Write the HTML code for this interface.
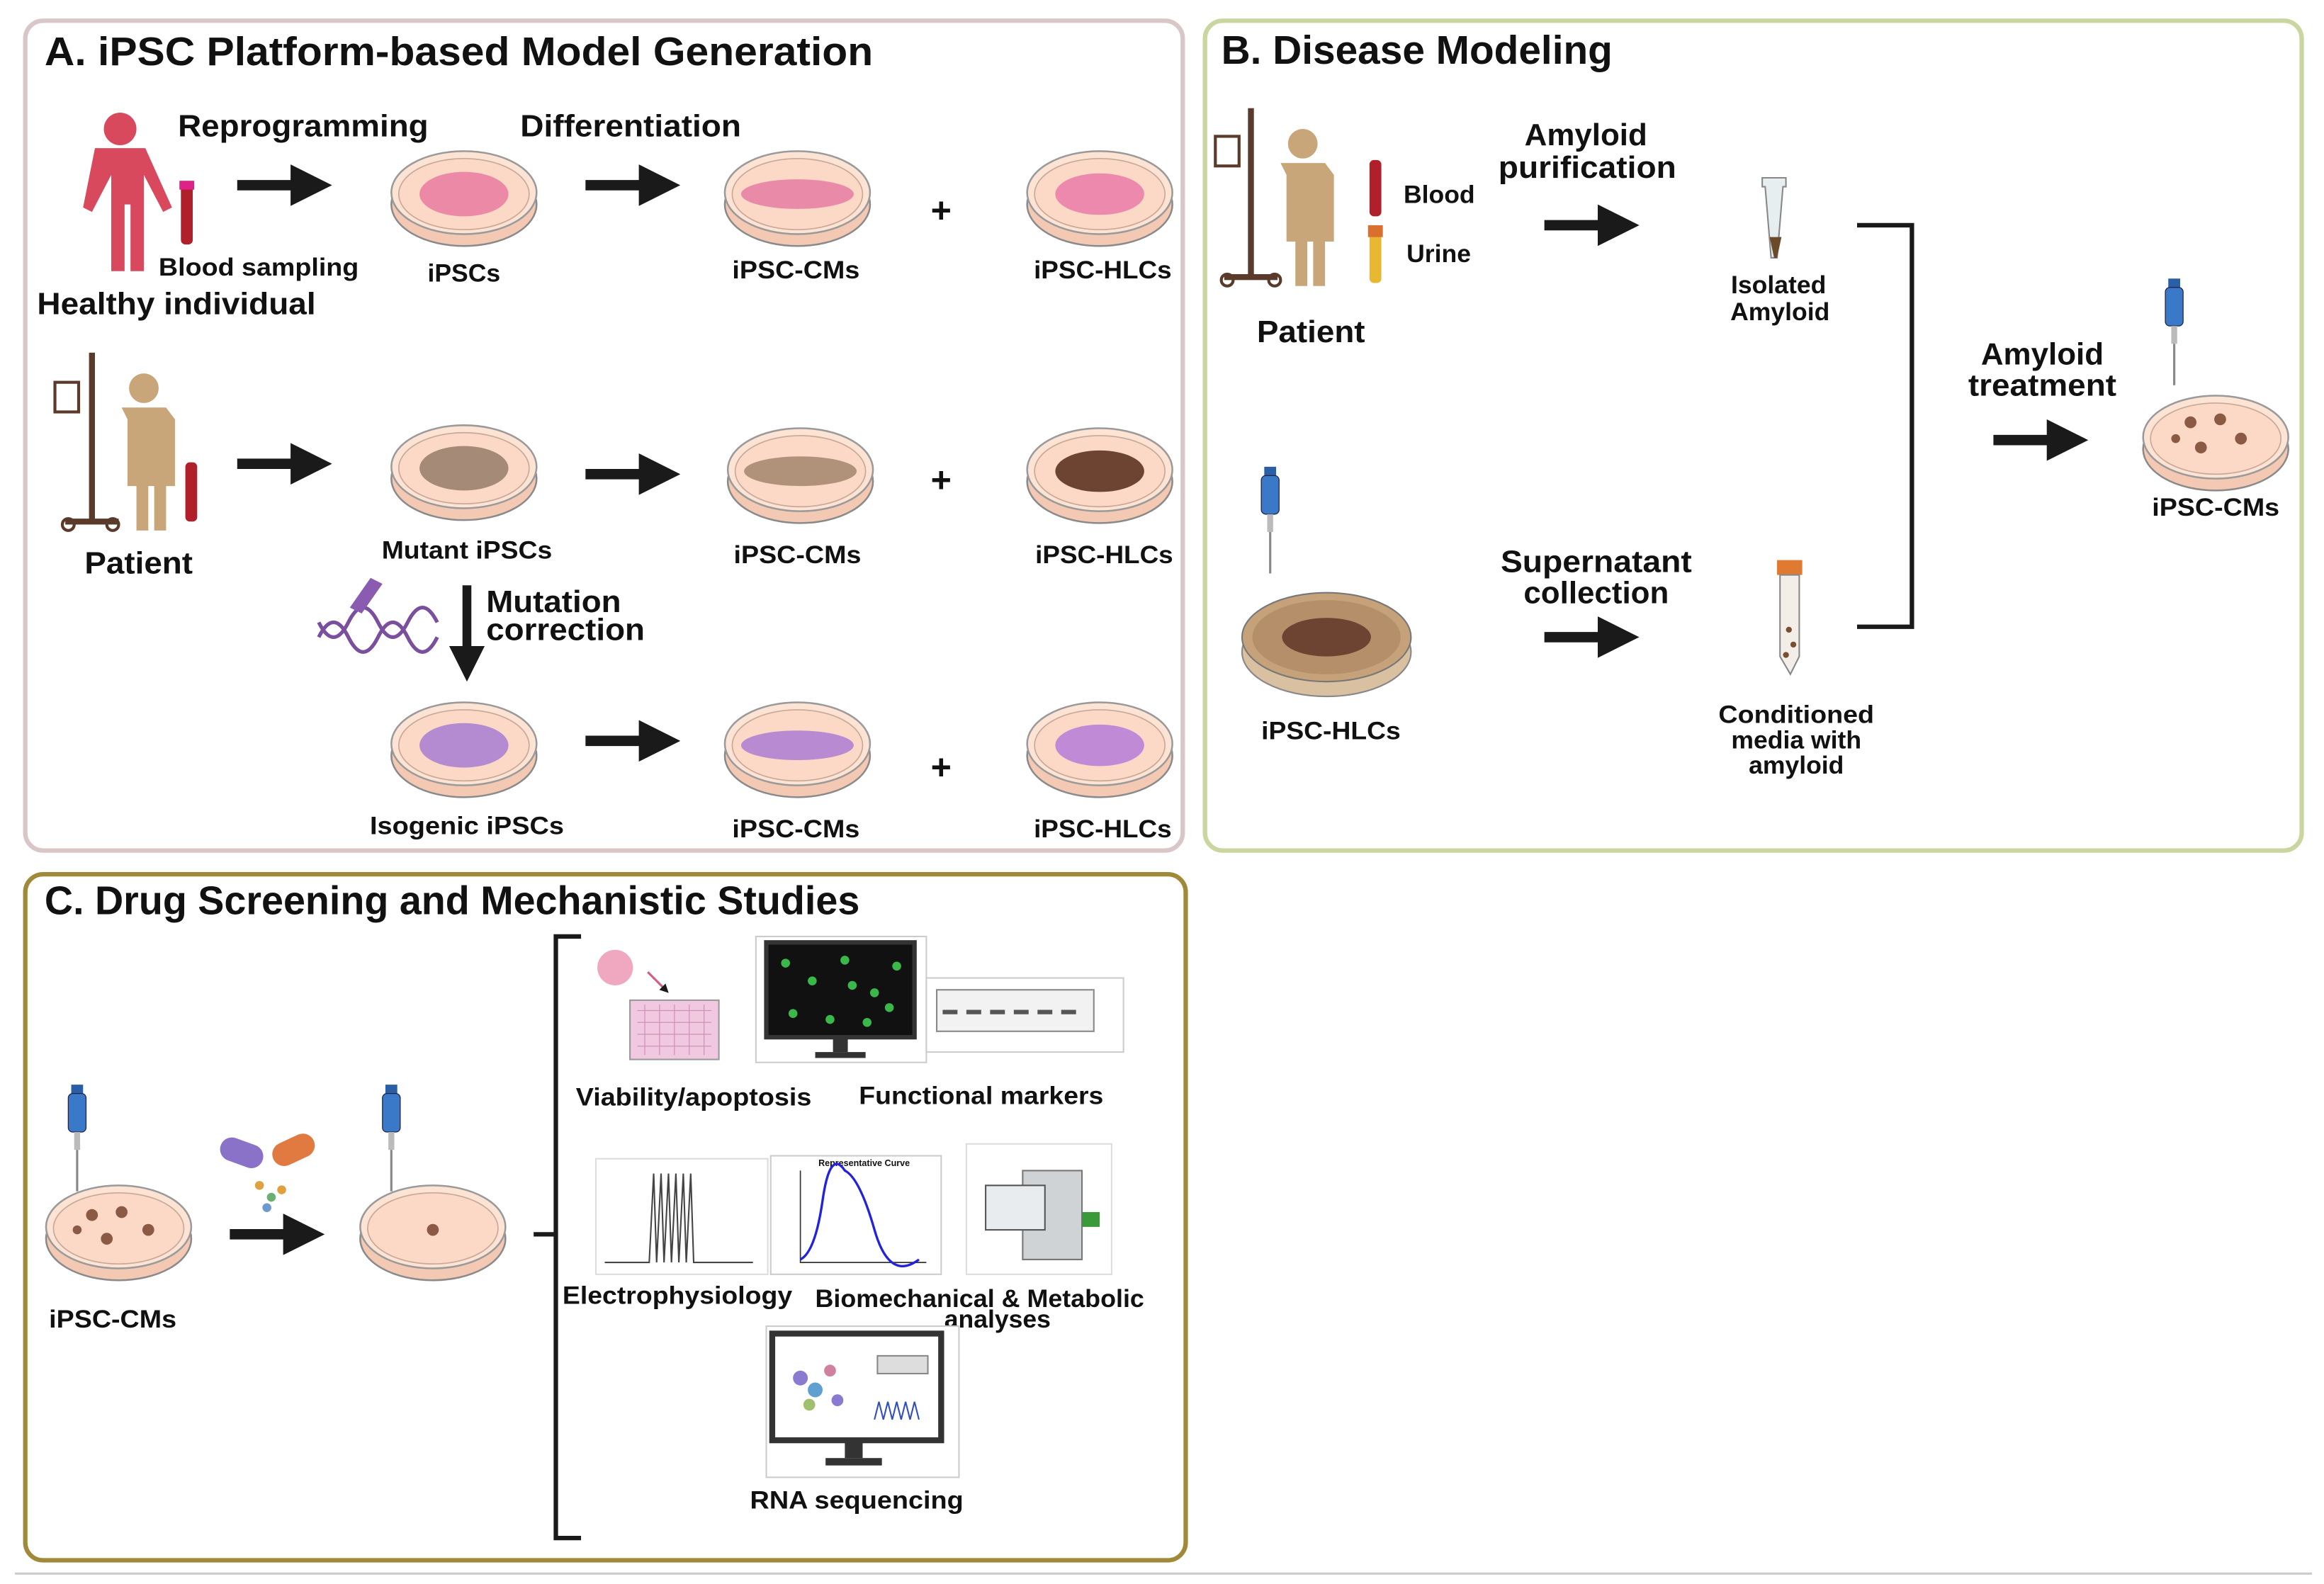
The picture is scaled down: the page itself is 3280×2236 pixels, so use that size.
<!DOCTYPE html>
<html><head><meta charset="utf-8"><style>
html,body{margin:0;padding:0;background:#fff}
svg{display:block}
text{font-family:"Liberation Sans",Arial,sans-serif;font-weight:bold;fill:#111}
</style></head><body>
<svg width="3280" height="2236" viewBox="0 0 1568 1069" xmlns="http://www.w3.org/2000/svg">
<defs>
<marker id="ah" markerWidth="4" markerHeight="4" refX="2" refY="2" orient="auto"><path d="M0,0 L4,2 L0,4 z" fill="#1a1a1a"/></marker>
<g id="dish"><ellipse cx="0" cy="8" rx="49" ry="28" fill="#f4c9b3" stroke="#8a8a8a" stroke-width="1.2"/><ellipse cx="0" cy="0" rx="49" ry="28" fill="#fde3d3" stroke="#9a9a9a" stroke-width="1.2"/><ellipse cx="0" cy="1" rx="44" ry="24" fill="#fbd9c6" stroke="#c8a898" stroke-width="0.8"/></g>
<g id="arr"><line x1="0" y1="0" x2="50" y2="0" stroke="#1a1a1a" stroke-width="7" marker-end="url(#ah)"/></g>
<g id="pip"><rect x="-4" y="0" width="8" height="6" fill="#2a5fa8"/><rect x="-6" y="6" width="12" height="26" rx="3" fill="#3a78c8" stroke="#224" stroke-width="0.6"/><rect x="-2" y="32" width="4" height="12" fill="#bbb"/><line x1="0" y1="44" x2="0" y2="72" stroke="#888" stroke-width="1.5"/></g>
</defs>
<rect x="17" y="14" width="781" height="560" rx="12" fill="none" stroke="#d9c7c7" stroke-width="3"/>
<rect x="813" y="14" width="740" height="560" rx="12" fill="none" stroke="#c9d6a0" stroke-width="3"/>
<rect x="17" y="590" width="783" height="463" rx="12" fill="none" stroke="#a08a3a" stroke-width="3"/>
<line x1="10" y1="1062" x2="1560" y2="1062" stroke="#ccc" stroke-width="1.5"/>

<text x="30" y="44" font-size="27" textLength="559" lengthAdjust="spacingAndGlyphs">A. iPSC Platform-based Model Generation</text>
<text x="824" y="43" font-size="27" textLength="264" lengthAdjust="spacingAndGlyphs">B. Disease Modeling</text>
<text x="30" y="617" font-size="27" textLength="550" lengthAdjust="spacingAndGlyphs">C. Drug Screening and Mechanistic Studies</text>

<!-- Healthy person -->
<g fill="#d9495e"><circle cx="81" cy="87" r="11"/><path d="M64,100 h34 l18,40 l-6,3 l-13,-25 v65 h-9 v-45 h-4 v45 h-9 v-65 l-13,25 l-6,-3 z"/></g>
<rect x="122" y="125" width="8" height="40" rx="3" fill="#b0202a"/><rect x="121" y="122" width="10" height="6" fill="#d28"/>
<text x="120" y="92" font-size="21" textLength="169" lengthAdjust="spacingAndGlyphs">Reprogramming</text>
<text x="351" y="92" font-size="21" textLength="149" lengthAdjust="spacingAndGlyphs">Differentiation</text>
<text x="107" y="186" font-size="17" textLength="135" lengthAdjust="spacingAndGlyphs">Blood sampling</text>
<text x="25" y="212" font-size="21" textLength="188" lengthAdjust="spacingAndGlyphs">Healthy individual</text>
<!-- Patient A -->
<g fill="#5a3a2a"><rect x="60" y="238" width="4" height="115"/><rect x="44" y="350" width="36" height="4"/><circle cx="46" cy="354" r="4" fill="none" stroke="#5a3a2a" stroke-width="2"/><circle cx="76" cy="354" r="4" fill="none" stroke="#5a3a2a" stroke-width="2"/><rect x="37" y="258" width="16" height="20" fill="none" stroke="#5a3a2a" stroke-width="2"/></g>
<g fill="#c9a57a"><circle cx="97" cy="262" r="10"/><path d="M82,275 h30 l6,8 v45 h-6 v30 h-8 v-30 h-4 v30 h-8 v-30 h-6 v-45 z"/></g>
<rect x="125" y="312" width="8" height="40" rx="3" fill="#b0202a"/>
<text x="57" y="387" font-size="21" textLength="73" lengthAdjust="spacingAndGlyphs">Patient</text>

<use href="#arr" x="160" y="125"/><use href="#arr" x="395" y="125"/>
<use href="#arr" x="160" y="313"/><use href="#arr" x="395" y="320"/>
<use href="#arr" x="395" y="500"/>
<line x1="315" y1="395" x2="315" y2="448" stroke="#1a1a1a" stroke-width="6" marker-end="url(#ah)"/>

<!-- row 1 -->
<use href="#dish" x="313" y="130"/><ellipse cx="313" cy="131" rx="30" ry="15" fill="#ea7fa2" opacity="0.9"/>
<use href="#dish" x="538" y="130"/><ellipse cx="538" cy="131" rx="38" ry="10" fill="#e98aa8"/>
<use href="#dish" x="742" y="130"/><ellipse cx="742" cy="131" rx="30" ry="14" fill="#ec89ad"/>
<text x="313" y="190" font-size="17" text-anchor="middle">iPSCs</text>
<text x="537" y="188" font-size="17" text-anchor="middle" textLength="86" lengthAdjust="spacingAndGlyphs">iPSC-CMs</text>
<text x="744" y="188" font-size="17" text-anchor="middle" textLength="93" lengthAdjust="spacingAndGlyphs">iPSC-HLCs</text>
<text x="635" y="150" font-size="24" text-anchor="middle">+</text>
<!-- row 2 -->
<use href="#dish" x="313" y="315"/><ellipse cx="313" cy="316" rx="30" ry="15" fill="#a58a78"/>
<use href="#dish" x="540" y="317"/><ellipse cx="540" cy="318" rx="38" ry="10" fill="#b0917a"/>
<use href="#dish" x="742" y="317"/><ellipse cx="742" cy="318" rx="30" ry="14" fill="#6d4331"/>
<text x="315" y="377" font-size="17" text-anchor="middle" textLength="115" lengthAdjust="spacingAndGlyphs">Mutant iPSCs</text>
<text x="538" y="380" font-size="17" text-anchor="middle" textLength="86" lengthAdjust="spacingAndGlyphs">iPSC-CMs</text>
<text x="745" y="380" font-size="17" text-anchor="middle" textLength="93" lengthAdjust="spacingAndGlyphs">iPSC-HLCs</text>
<text x="635" y="332" font-size="24" text-anchor="middle">+</text>
<!-- DNA -->
<path d="M215,430 q10,-20 20,0 t20,0 t20,0 t20,0" fill="none" stroke="#7a4f9e" stroke-width="2.5"/>
<path d="M215,420 q10,20 20,0 t20,0 t20,0 t20,0" fill="none" stroke="#7a4f9e" stroke-width="2.5"/>
<path d="M236,410 l14,-20 l8,4 l-14,20 z" fill="#8a5bb0"/>
<text x="328" y="413" font-size="21" textLength="91" lengthAdjust="spacingAndGlyphs">Mutation</text>
<text x="328" y="432" font-size="21" textLength="107" lengthAdjust="spacingAndGlyphs">correction</text>
<!-- row 3 -->
<use href="#dish" x="313" y="502"/><ellipse cx="313" cy="503" rx="30" ry="15" fill="#b48ad0"/>
<use href="#dish" x="538" y="502"/><ellipse cx="538" cy="503" rx="38" ry="10" fill="#b88ad2"/>
<use href="#dish" x="742" y="502"/><ellipse cx="742" cy="503" rx="30" ry="14" fill="#c08ad6"/>
<text x="315" y="563" font-size="17" text-anchor="middle" textLength="131" lengthAdjust="spacingAndGlyphs">Isogenic iPSCs</text>
<text x="537" y="565" font-size="17" text-anchor="middle" textLength="86" lengthAdjust="spacingAndGlyphs">iPSC-CMs</text>
<text x="744" y="565" font-size="17" text-anchor="middle" textLength="93" lengthAdjust="spacingAndGlyphs">iPSC-HLCs</text>
<text x="635" y="526" font-size="24" text-anchor="middle">+</text>

<!-- B -->
<g fill="#5a3a2a"><rect x="842" y="73" width="4" height="115"/><rect x="826" y="185" width="36" height="4"/><circle cx="828" cy="189" r="4" fill="none" stroke="#5a3a2a" stroke-width="2"/><circle cx="860" cy="189" r="4" fill="none" stroke="#5a3a2a" stroke-width="2"/><rect x="820" y="92" width="16" height="20" fill="none" stroke="#5a3a2a" stroke-width="2"/></g>
<g fill="#c9a57a"><circle cx="879" cy="97" r="10"/><path d="M864,110 h30 l6,8 v45 h-6 v30 h-8 v-30 h-4 v30 h-8 v-30 h-6 v-45 z"/></g>
<rect x="924" y="108" width="8" height="38" rx="3" fill="#b0202a"/>
<rect x="924" y="155" width="8" height="36" rx="3" fill="#e8b830"/><rect x="923" y="152" width="10" height="8" fill="#d97030"/>
<text x="947" y="137" font-size="17">Blood</text>
<text x="949" y="177" font-size="17">Urine</text>
<text x="848" y="231" font-size="21" textLength="73" lengthAdjust="spacingAndGlyphs">Patient</text>
<text x="1070" y="98" font-size="21" text-anchor="middle">Amyloid</text>
<text x="1071" y="120" font-size="21" text-anchor="middle" textLength="120" lengthAdjust="spacingAndGlyphs">purification</text>
<use href="#arr" x="1042" y="152"/><use href="#arr" x="1042" y="430"/><use href="#arr" x="1345" y="297"/>
<path d="M1189,120 h16 v6 h-2 l-4,48 h-4 l-4,-48 h-2 z" fill="#e6eef0" stroke="#888"/><path d="M1194,160 l3,14 h2 l3,-14 z" fill="#6b4a2a"/>
<text x="1200" y="198" font-size="17" text-anchor="middle">Isolated</text>
<text x="1201" y="216" font-size="17" text-anchor="middle">Amyloid</text>
<path d="M1253,152 h37 v271 h-37" fill="none" stroke="#1a1a1a" stroke-width="3"/>
<text x="1378" y="246" font-size="21" text-anchor="middle">Amyloid</text>
<text x="1378" y="267" font-size="21" text-anchor="middle" textLength="100" lengthAdjust="spacingAndGlyphs">treatment</text>
<use href="#pip" x="1467" y="188"/>
<use href="#dish" x="1495" y="295"/>
<g fill="#8a5a44"><circle cx="1478" cy="285" r="4"/><circle cx="1498" cy="283" r="4"/><circle cx="1512" cy="296" r="4"/><circle cx="1485" cy="302" r="4"/><circle cx="1468" cy="296" r="3"/></g>
<text x="1495" y="348" font-size="17" text-anchor="middle" textLength="86" lengthAdjust="spacingAndGlyphs">iPSC-CMs</text>
<use href="#pip" x="857" y="315"/>
<ellipse cx="895" cy="440" rx="57" ry="30" fill="#d8c0a0" stroke="#888"/>
<ellipse cx="895" cy="430" rx="57" ry="30" fill="#c5a27a" stroke="#777"/>
<ellipse cx="895" cy="430" rx="50" ry="25" fill="#b48f6a"/>
<ellipse cx="895" cy="430" rx="30" ry="13" fill="#6d4331"/>
<text x="898" y="499" font-size="17" text-anchor="middle" textLength="94" lengthAdjust="spacingAndGlyphs">iPSC-HLCs</text>
<text x="1077" y="386" font-size="21" text-anchor="middle" textLength="129" lengthAdjust="spacingAndGlyphs">Supernatant</text>
<text x="1077" y="407" font-size="21" text-anchor="middle">collection</text>
<rect x="1199" y="378" width="17" height="10" fill="#e07a30"/>
<path d="M1201,388 h13 v55 l-6,12 l-7,-12 z" fill="#f3eee8" stroke="#888"/>
<g fill="#7a4f30"><circle cx="1207" cy="425" r="2"/><circle cx="1210" cy="435" r="2"/><circle cx="1205" cy="442" r="2"/></g>
<text x="1212" y="488" font-size="17" text-anchor="middle" textLength="105" lengthAdjust="spacingAndGlyphs">Conditioned</text>
<text x="1212" y="505" font-size="17" text-anchor="middle">media with</text>
<text x="1212" y="522" font-size="17" text-anchor="middle">amyloid</text>

<!-- C -->
<use href="#pip" x="52" y="732"/>
<use href="#dish" x="80" y="828"/>
<g fill="#8a5a44"><circle cx="62" cy="820" r="4"/><circle cx="82" cy="818" r="4"/><circle cx="100" cy="830" r="4"/><circle cx="72" cy="836" r="4"/><circle cx="52" cy="830" r="3"/></g>
<text x="76" y="896" font-size="17" text-anchor="middle" textLength="86" lengthAdjust="spacingAndGlyphs">iPSC-CMs</text>
<rect x="148" y="770" width="30" height="16" rx="8" fill="#8a72c8" transform="rotate(20 163 778)"/>
<rect x="183" y="768" width="30" height="16" rx="8" fill="#e07a40" transform="rotate(-25 198 776)"/>
<g fill="#e0a040"><circle cx="175" cy="800" r="3"/><circle cx="183" cy="808" r="3" fill="#6ab070"/><circle cx="190" cy="803" r="3"/><circle cx="180" cy="815" r="3" fill="#6a9ad0"/></g>
<use href="#arr" x="155" y="833"/>
<use href="#pip" x="264" y="732"/>
<use href="#dish" x="292" y="828"/>
<circle cx="292" cy="830" r="4" fill="#8a5a44"/>
<path d="M392,632 h-17 v406 h17" fill="none" stroke="#1a1a1a" stroke-width="3"/>
<line x1="360" y1="833" x2="375" y2="833" stroke="#1a1a1a" stroke-width="3"/>
<!-- viability -->
<circle cx="415" cy="653" r="12" fill="#f0a8c0"/><path d="M437,656 l12,12" stroke="#d06080" stroke-width="1.5" marker-end="url(#ah)"/>
<rect x="425" y="675" width="60" height="40" fill="#f0c8e0" stroke="#999"/>
<g stroke="#d090b8" stroke-width="0.6"><path d="M430,682h50M430,690h50M430,698h50M430,706h50M435,678v34M445,678v34M455,678v34M465,678v34M475,678v34"/></g>
<text x="468" y="746" font-size="17" text-anchor="middle" textLength="159" lengthAdjust="spacingAndGlyphs">Viability/apoptosis</text>
<!-- monitor -->
<rect x="510" y="632" width="115" height="85" fill="#fff" stroke="#ccc"/>
<rect x="517" y="636" width="100" height="64" fill="#111" stroke="#333" stroke-width="3"/>
<g fill="#3bb84a"><circle cx="530" cy="650" r="3"/><circle cx="548" cy="662" r="3"/><circle cx="570" cy="648" r="3"/><circle cx="590" cy="670" r="3"/><circle cx="605" cy="652" r="3"/><circle cx="535" cy="684" r="3"/><circle cx="560" cy="688" r="3"/><circle cx="585" cy="690" r="3"/><circle cx="600" cy="680" r="3"/><circle cx="575" cy="665" r="3"/></g>
<rect x="562" y="700" width="10" height="10" fill="#333"/><rect x="550" y="710" width="34" height="4" fill="#333"/>
<rect x="625" y="660" width="133" height="50" fill="#fff" stroke="#ccc"/>
<rect x="632" y="668" width="106" height="28" fill="#f2f2f2" stroke="#888"/>
<path d="M636,683h10M652,683h10M668,683h10M684,683h10M700,683h10M716,683h10" stroke="#555" stroke-width="3"/>
<text x="662" y="745" font-size="17" text-anchor="middle" textLength="165" lengthAdjust="spacingAndGlyphs">Functional markers</text>
<!-- ephys -->
<rect x="402" y="782" width="116" height="78" fill="#fff" stroke="#ddd"/>
<path d="M408,852 h30 l3,-60 l2,60 l3,-60 l2,60 l3,-60 l2,60 l3,-60 l2,60 l3,-60 l2,60 l3,-60 l2,60 h40" fill="none" stroke="#444" stroke-width="1"/>
<text x="457" y="880" font-size="17" text-anchor="middle" textLength="155" lengthAdjust="spacingAndGlyphs">Electrophysiology</text>
<!-- force -->
<rect x="520" y="780" width="115" height="80" fill="#fff" stroke="#ccc"/>
<text x="583" y="787" font-size="6" text-anchor="middle">Representative Curve</text>
<path d="M540,790 v62 h85" fill="none" stroke="#333" stroke-width="0.8"/>
<path d="M540,850 q10,-5 15,-40 t15,-20 q10,5 20,40 t30,20" fill="none" stroke="#2222dd" stroke-width="1.6"/>
<text x="661" y="882" font-size="17" text-anchor="middle" textLength="222" lengthAdjust="spacingAndGlyphs">Biomechanical &amp; Metabolic</text>
<text x="673" y="896" font-size="17" text-anchor="middle">analyses</text>
<!-- machine -->
<rect x="652" y="772" width="98" height="88" fill="#fff" stroke="#ddd"/>
<path d="M690,790 h40 v60 h-40 z" fill="#cfd3d6" stroke="#777"/>
<rect x="665" y="800" width="40" height="30" fill="#e8ecef" stroke="#555"/>
<rect x="730" y="818" width="12" height="10" fill="#3a9a3a"/>
<!-- RNA -->
<rect x="517" y="895" width="130" height="102" fill="#fff" stroke="#ccc"/>
<rect x="521" y="900" width="114" height="72" fill="#fff" stroke="#333" stroke-width="4"/>
<g fill="#8a7ad0"><circle cx="540" cy="930" r="5"/><circle cx="550" cy="938" r="5" fill="#60a0d0"/><circle cx="560" cy="925" r="4" fill="#d080a0"/><circle cx="546" cy="948" r="4" fill="#a0c070"/><circle cx="565" cy="945" r="4"/></g>
<rect x="592" y="915" width="34" height="12" fill="#ddd" stroke="#888"/>
<path d="M590,958 l3,-12 l3,12 l3,-12 l3,12 l3,-12 l3,12 l3,-12 l3,12 l3,-12 l3,12" fill="none" stroke="#3050c0" stroke-width="1"/>
<rect x="570" y="972" width="12" height="12" fill="#333"/><rect x="557" y="984" width="38" height="5" fill="#333"/>
<text x="578" y="1018" font-size="17" text-anchor="middle" textLength="144" lengthAdjust="spacingAndGlyphs">RNA sequencing</text>
</svg>
</body></html>
